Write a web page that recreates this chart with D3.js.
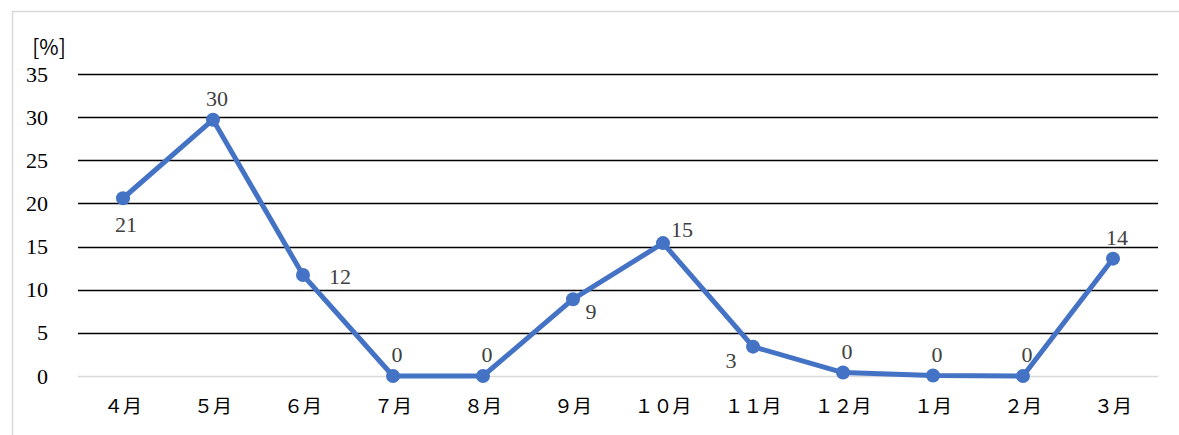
<!DOCTYPE html>
<html>
<head>
<meta charset="utf-8">
<script src="https://cdn.jsdelivr.net/npm/d3@7"></script>
<style>
  body { margin: 0; background: #fff; }
  svg text { font-family: "Liberation Serif", "DejaVu Serif", serif; }
</style>
</head>
<body>
<div id="chart"></div>
<script>
// data
const months = ['４月', '５月', '６月', '７月', '８月', '９月', '１０月', '１１月', '１２月', '１月', '２月', '３月'];
const values = [20.6, 29.7, 11.7, 0, 0, 8.9, 15.4, 3.4, 0.4, 0.05, 0, 13.6];
const yTicks = [0, 5, 10, 15, 20, 25, 30, 35];
// where each data label sits relative to its point
const labelPlacement = ['below', 'above', 'right', 'above', 'above', 'rightBelow', 'rightAbove', 'leftBelow', 'above', 'above', 'above', 'above'];

const width = 1179, height = 435;
const margin = { left: 78, right: 21, top: 74, bottom: 59 };
const innerW = width - margin.left - margin.right;
const innerH = height - margin.top - margin.bottom;

const svg = d3.select('#chart')
  .append('svg')
  .attr('width', width)
  .attr('height', height);

// outer frame
svg.append('rect')
  .attr('x', 12.5).attr('y', 11.5)
  .attr('width', width).attr('height', height)
  .attr('fill', 'none')
  .attr('stroke', '#d9d9d9')
  .attr('stroke-width', 1.5);

const g = svg.append('g')
  .attr('transform', 'translate(' + margin.left + ',' + margin.top + ')');

const x = d3.scaleBand().domain(months).range([0, innerW]);
const y = d3.scaleLinear().domain([0, 35]).range([innerH, 0]);
const cx = (d, i) => x(months[i]) + x.bandwidth() / 2;

// gridlines
g.selectAll('.grid')
  .data(yTicks)
  .enter()
  .append('line')
  .attr('x1', 0)
  .attr('x2', innerW)
  .attr('y1', d => Math.round(y(d)) + 0.5)
  .attr('y2', d => Math.round(y(d)) + 0.5)
  .attr('stroke', d => d === 0 ? '#d9d9d9' : '#000')
  .attr('stroke-width', 1.5);

// y axis labels
const yAxis = g.append('g')
  .attr('font-family', null)
  .call(d3.axisLeft(y).tickValues(yTicks).tickSize(0).tickPadding(30));
yAxis.attr('font-family', '"Liberation Serif", serif').attr('font-size', 22);
yAxis.select('.domain').remove();
yAxis.selectAll('text')
  .attr('fill', '#000');

// x axis labels
const xAxis = g.append('g')
  .attr('transform', 'translate(0,' + innerH + ')')
  .call(d3.axisBottom(x).tickSize(0).tickPadding(24));
xAxis.attr('font-family', '"Noto Sans CJK JP", sans-serif').attr('font-size', 19);
xAxis.select('.domain').remove();
xAxis.selectAll('text')
  .style('font-family', '"Noto Sans CJK JP", sans-serif')
  .attr('fill', '#000');

// unit label
svg.append('text')
  .attr('x', 49)
  .attr('y', 55)
  .attr('text-anchor', 'middle')
  .style('font-family', '"Noto Sans CJK JP", sans-serif')
  .style('font-size', '21px')
  .attr('fill', '#000')
  .text('[%]');

// line
const line = d3.line()
  .x((d, i) => cx(d, i))
  .y(d => y(d));

g.append('path')
  .datum(values)
  .attr('d', line)
  .attr('fill', 'none')
  .attr('stroke', '#4472C4')
  .attr('stroke-width', 5)
  .attr('stroke-linejoin', 'round');

g.selectAll('.dot')
  .data(values)
  .enter()
  .append('circle')
  .attr('cx', cx)
  .attr('cy', d => y(d))
  .attr('r', 7)
  .attr('fill', '#4472C4');

// data labels
const offsets = {
  above: [4, -14],
  below: [3, 34],
  right: [37, 9],
  rightBelow: [18, 20],
  rightAbove: [19, -6],
  leftBelow: [-22, 21]
};

g.selectAll('.lbl')
  .data(values)
  .enter()
  .append('text')
  .attr('x', (d, i) => cx(d, i) + offsets[labelPlacement[i]][0])
  .attr('y', (d, i) => y(d) + offsets[labelPlacement[i]][1])
  .attr('text-anchor', 'middle')
  .style('font-size', '22px')
  .attr('fill', '#404040')
  .text(d => Math.round(d));
</script>
</body>
</html>
